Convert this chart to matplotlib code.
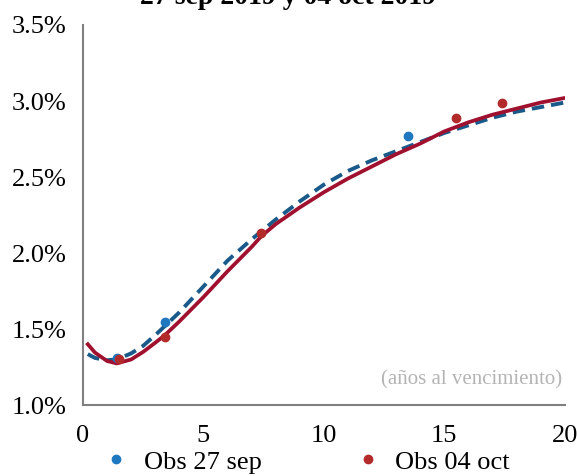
import numpy as np
import matplotlib
matplotlib.use('Agg')
import matplotlib.pyplot as plt

plt.rcParams['font.family'] = ['Liberation Serif', 'DejaVu Serif']

#- data (years to maturity, yield %)
plazo_sep = [0.2, 0.5, 1.0, 1.4, 2.0, 2.5, 3.0, 3.4, 4, 5, 6, 7, 8, 9, 10,
             11, 12, 13, 14, 15, 16, 17, 18, 19, 20]
curva_sep = [1.335, 1.31, 1.295, 1.30, 1.34, 1.39, 1.46, 1.52, 1.61, 1.78, 1.95,
             2.09, 2.22, 2.34, 2.45, 2.54, 2.61, 2.67, 2.73, 2.79, 2.84, 2.89,
             2.93, 2.96, 2.99]
plazo_oct = [0.2, 0.5, 1.0, 1.4, 2.0, 2.5, 3.0, 3.4, 4, 5, 6, 7, 7.4, 8, 9, 10,
             11, 12, 13, 14, 15, 16, 17, 18, 19, 20]
curva_oct = [1.40, 1.345, 1.29, 1.274, 1.30, 1.35, 1.41, 1.46, 1.55, 1.71, 1.88,
             2.04, 2.11, 2.19, 2.30, 2.40, 2.49, 2.57, 2.65, 2.72, 2.80, 2.86,
             2.91, 2.95, 2.99, 3.02]
obs_sep_x = [1.4, 3.4, 13.5]
obs_sep_y = [1.31, 1.545, 2.77]
obs_oct_x = [1.5, 3.4, 7.4, 15.5, 17.4]
obs_oct_y = [1.30, 1.45, 2.13, 2.89, 2.99]

fig = plt.figure(figsize=(5.77, 4.76), dpi=100)
ax = fig.add_axes([0.1438, 0.149, 0.835, 0.7985])

ax.plot(plazo_sep, curva_sep, color='#1a5a8a', lw=2.8, ls=(0, (3.2, 1.8)), zorder=2)
ax.plot(plazo_oct, curva_oct, color='#a0102f', lw=2.7, zorder=3)
ax.plot(obs_sep_x, obs_sep_y, 'o', color='#1f78bf', ms=6, zorder=4, label='Obs 27 sep')
ax.plot(obs_oct_x, obs_oct_y, 'o', color='#b22a2a', ms=6, zorder=5, label='Obs 04 oct')

ax.set_xlim(0, 20)
ax.set_ylim(1.0, 3.5)
ax.set_xticks([0, 5, 10, 15, 20])
ax.set_yticks([1.0, 1.5, 2.0, 2.5, 3.0, 3.5])
ax.set_yticklabels(['%.1f%%' % v for v in [1.0, 1.5, 2.0, 2.5, 3.0, 3.5]])
ax.tick_params(length=0, labelsize=19)
ax.tick_params(axis='y', pad=12)
ax.tick_params(axis='x', pad=14)
for s in ['top', 'right']:
    ax.spines[s].set_visible(False)
for s in ['left', 'bottom']:
    ax.spines[s].set_color('#808080')
    ax.spines[s].set_linewidth(1.5)

ax.text(0.995, 0.053, '(años al vencimiento)', transform=ax.transAxes,
        ha='right', va='baseline', fontsize=15, color='#b4b4b4')

fig.text(0.5, 1 - 4/476, '27 sep 2019 y 04 oct 2019', ha='center', va='baseline',
         fontsize=20, fontweight='bold')

fig.legend(loc='lower center', bbox_to_anchor=(0.529, -0.045), ncol=2, frameon=False,
           fontsize=19, handletextpad=0.45, columnspacing=3.4, handlelength=1.2)

fig.savefig('out.png', dpi=100)
